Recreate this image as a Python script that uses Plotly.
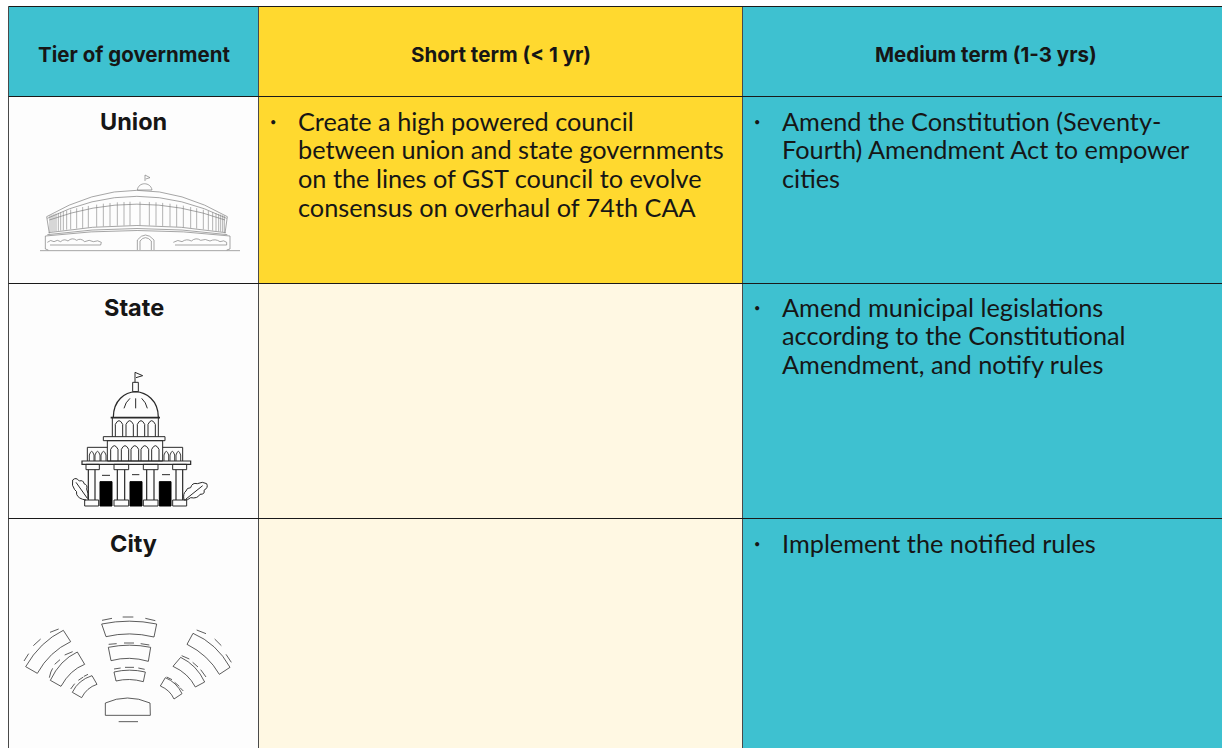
import re
import plotly.graph_objects as go

headers = ["Tier of government", "Short term (< 1 yr)", "Medium term (1-3 yrs)"]
tiers = ["Union", "State", "City"]
short_term = [
    ["Create a high powered council", "between union and state governments",
     "on the lines of GST council to evolve", "consensus on overhaul of 74th CAA"],
    [],
    [],
]
medium_term = [
    ["Amend the Constitution (Seventy-", "Fourth) Amendment Act to empower", "cities"],
    ["Amend municipal legislations", "according to the Constitutional", "Amendment, and notify rules"],
    ["Implement the notified rules"],
]

TEAL, YELLOW, CREAM, WHITE = "#3EC1D0", "#FFD92F", "#FFF8E3", "#FDFDFD"
INK = "#161616"
BODY_FONT = "Lato"
HEAD_FONT = "Inter"
X = [8.5, 258.5, 742.5, 1223]
Y = [6.5, 96.5, 283.5, 518.5, 749]
fills = [
    [TEAL, YELLOW, TEAL],
    [WHITE, YELLOW, TEAL],
    [WHITE, CREAM, TEAL],
    [WHITE, CREAM, TEAL],
]

shapes, ann = [], []
for r in range(4):
    for c in range(3):
        shapes.append(dict(type="rect", x0=X[c], x1=X[c + 1], y0=Y[r], y1=Y[r + 1],
                           fillcolor=fills[r][c], line=dict(width=0), layer="below"))
for vx in X[:3]:
    shapes.append(dict(type="line", x0=vx, x1=vx, y0=Y[0], y1=749, line=dict(color="#4a4a4a", width=1), layer="below"))
for hy in Y[:4]:
    shapes.append(dict(type="line", x0=X[0], x1=1223, y0=hy, y1=hy, line=dict(color="#1a1a1a", width=1), layer="below"))


def tr(ox, oy, s, d):
    """Map an SVG path given in a zoomed local frame onto chart pixels."""
    i = 0
    def rep(m):
        nonlocal i
        v = float(m.group())
        v = (ox if i % 2 == 0 else oy) + v / s
        i += 1
        return f"{v:.2f}"
    return re.sub(r"-?\d+(?:\.\d+)?", rep, d)


def path(ox, oy, s, d, color="#222222", width=1.0, fill=None):
    shapes.append(dict(type="path", path=tr(ox, oy, s, d), line=dict(color=color, width=width),
                       fillcolor=fill if fill else "rgba(0,0,0,0)", layer="above"))


def label(x, y, text, size, bold=False, anchor="left", family=BODY_FONT):
    ann.append(dict(x=x, y=y, xref="x", yref="y", text=f"<b>{text}</b>" if bold else text, showarrow=False,
                    xanchor=anchor, yanchor="middle", font=dict(family=family, size=size, color=INK), align=anchor))


# ---- text ----
for h, cx in zip(headers, [133.5, 500.5, 985.5]):
    label(cx, 54.5, h, 20.5, True, "center", HEAD_FONT)
for t, y in zip(tiers, [121.5, 307.5, 543.5]):
    label(133.5, y, t, 23.5, True, "center", HEAD_FONT)
starts = [120.5, 306.5, 542.5]
LEAD = 28.7
for r, lines in enumerate(short_term):
    if lines:
        label(273, starts[r] + 1, "•", 11, False, "center")
    for i, ln in enumerate(lines):
        label(295.5, starts[r] + i * LEAD, ln, 25.3)
for r, lines in enumerate(medium_term):
    if lines:
        label(757, starts[r] + 1, "•", 11, False, "center")
    for i, ln in enumerate(lines):
        label(779.5, starts[r] + i * LEAD, ln, 25.3)

# ---- parliament icon (zoom frame origin 30,165, scale 3) ----
PO = (30, 165, 3)
G = "#808080"
for d in [
    "M345 48 L345 30 L360 38 L347 42",
    "M322 75 C325 50 362 50 366 75 Z",
    "M50 155 Q320 -3 592 155",
    "M52 160 Q320 28 590 160",
    "M58 165 Q320 70 585 165",
    "M50 155 L58 205", "M592 155 L585 205",
    "M56 203 Q320 160 587 203",
    "M52 209 Q320 172 592 209",
    "M46 213 L46 252 L55 255", "M600 213 L600 252 L590 255",
    "M46 213 Q320 180 600 213",
    "M30 257 L630 257",
    "M322 255 L322 225 Q346 195 372 225 L372 255",
    "M330 255 L330 228 Q346 208 364 228 L364 255",
    "M52 232 Q62 222 72 230 Q82 222 92 230 Q102 220 114 228 Q126 216 140 226 Q152 218 164 230 Q178 222 190 230 Q204 224 214 232 L212 240 L60 240",
    "M430 232 Q444 222 456 230 Q470 220 484 228 Q498 216 512 226 Q526 220 540 228 Q556 220 570 230 Q582 224 590 232 L590 240 L435 240",
]:
    path(*PO, d, color=G, width=0.7)
for vx in [60, 66, 72, 78, 85, 92, 100, 110, 122, 140, 158, 175, 200, 220, 240, 262, 282, 300, 330, 358, 378, 398,
           420, 440, 460, 482, 500, 520, 535, 548, 558, 566, 572, 578, 583]:
    yt = 155 - (1 - ((vx - 320) / 272) ** 2) * 45
    yb = 203 - (1 - ((vx - 320) / 272) ** 2) * 22
    path(*PO, f"M{vx} {yt:.1f} L{vx} {yb:.1f}", color=G, width=0.6)

# ---- capitol icon (zoom frame origin 60,365, scale 3) ----
CO = (60, 365, 3)
K = "#2a2a2a"
def rect(a, b, c, d, **kw):
    path(*CO, f"M{a} {b} L{c} {b} L{c} {d} L{a} {d} Z", **kw)
def arch(a, c, top, bot, **kw):
    m = (a + c) / 2
    path(*CO, f"M{a} {bot} L{a} {top + 12} Q{m} {top - 10} {c} {top + 12} L{c} {bot}", **kw)

path(*CO, "M225 52 L225 22 L248 32 L228 38", color=K)
rect(218, 52, 235, 80, color=K)
path(*CO, "M160 157 C160 105 195 82 227 80 C258 82 295 105 295 157", color=K, width=1.3)
path(*CO, "M152 158 L300 158", color=K, width=1.6)
path(*CO, "M192 130 Q196 112 210 100 M227 130 L227 100 M262 130 Q258 112 245 100", color=K)
path(*CO, "M157 158 L157 215 M295 158 L295 215", color=K)
for a, c in [(166, 188), (198, 220), (232, 254), (264, 286)]:
    arch(a, c, 166, 215, color=K)
rect(130, 215, 315, 227, color=K)
rect(142, 227, 308, 288, color=K)
for a, c in [(152, 174), (184, 206), (213, 236), (243, 266), (275, 297)]:
    arch(a, c, 241, 288, color=K)
path(*CO, "M142 247 L82 247 L82 288 M308 247 L368 247 L368 288", color=K)
for a, c in [(88, 102), (105, 120), (123, 138), (312, 326), (330, 344), (348, 362)]:
    arch(a, c, 258, 288, color=K, width=0.9)
rect(66, 288, 392, 298, color=K, width=1.2)
for a, c in [(78, 118), (162, 206), (250, 294), (338, 380)]:
    rect(a, 298, c, 314, color=K)
for a, c in [(85, 105), (172, 194), (260, 282), (348, 368)]:
    path(*CO, f"M{a} 314 L{a} 405 M{c} 314 L{c} 405", color=K, width=1.2)
for a, c in [(74, 116), (162, 206), (250, 294), (338, 380)]:
    rect(a, 405, c, 423, color=K)
for a, c in [(120, 156), (210, 246), (298, 333)]:
    rect(a, 350, c, 423, color="#000000", fill="#000000")
path(*CO, "M126 331 L150 331 M216 329 L238 329 M306 329 L330 329", color=K)
path(*CO, "M78 405 Q55 402 50 388 Q52 378 44 374 Q34 362 38 345 Q48 335 58 348 Q70 344 72 356 Q84 360 80 372 Q86 385 84 402 M48 352 L82 400",
     color=K)
path(*CO, "M372 405 Q368 385 378 378 Q380 368 392 368 Q396 352 412 356 Q428 348 440 356 Q446 368 432 376 Q436 388 420 388 Q412 402 392 398 Q384 406 372 405 M378 402 L428 362",
     color=K)

# ---- council chamber icon (zoom frame origin 10,605, scale 3) ----
VO = (10, 605, 3)
V = "#333333"
for d in [
    "M275 57 Q358 40 440 57 L432 96 Q358 78 288 95 Z",
    "M295 127 Q358 114 422 127 L415 169 Q358 152 303 167 Z",
    "M312 201 Q358 190 406 201 L400 230 Q358 218 318 228 Z",
    "M286 294 Q352 264 420 294 L421 331 L286 331 Z",
    "M160 76 L182 110 Q118 140 82 205 L47 185 Q90 110 160 76 Z",
    "M202 141 L224 178 Q180 195 153 244 L121 226 Q150 165 202 141 Z",
    "M246 212 L261 238 Q230 248 215 278 L187 262 Q205 225 246 212 Z",
    "M549 85 L531 118 Q595 150 628 208 L660 187 Q620 115 549 85 Z",
    "M512 157 L489 184 Q535 205 556 246 L584 231 Q560 180 512 157 Z",
    "M466 218 L451 243 Q480 255 492 282 L516 266 Q500 232 466 218 Z",
    "M276 46 L306 40 M338 36 L370 36 M406 40 L436 47",
    "M296 118 L320 116 M342 114 L372 114 M392 116 L418 120",
    "M312 192 L332 189 M345 187 L372 187 M385 189 L404 193",
    "M326 350 L384 350",
    "M42 168 L56 146 M70 122 L92 102 M120 82 L146 72",
    "M118 218 Q122 198 128 190 M134 178 L150 164 M164 150 L188 140",
    "M182 252 L194 236 M205 226 L220 216 M222 214 L234 208",
    "M560 75 L588 86 M614 102 L634 122 M648 148 L664 172",
    "M515 152 L538 162 M548 172 L564 186 M572 194 L588 216",
    "M470 216 L486 224 M494 232 L508 244 M510 248 L520 258",
]:
    path(*VO, d, color=V, width=0.8)

fig = go.Figure(go.Scatter(x=[0], y=[0], mode="markers", marker=dict(opacity=0), hoverinfo="skip", showlegend=False))
fig.update_layout(
    width=1222, height=748, margin=dict(l=0, r=0, t=0, b=0),
    paper_bgcolor="#FFFFFF", plot_bgcolor="#FFFFFF", showlegend=False,
    xaxis=dict(range=[0, 1222], visible=False, fixedrange=True),
    yaxis=dict(range=[748, 0], visible=False, fixedrange=True),
    shapes=shapes, annotations=ann,
)
fig.write_html("out.html", config={"displayModeBar": False},
               post_script="document.body.style.margin='0';document.body.style.overflow='hidden';")
